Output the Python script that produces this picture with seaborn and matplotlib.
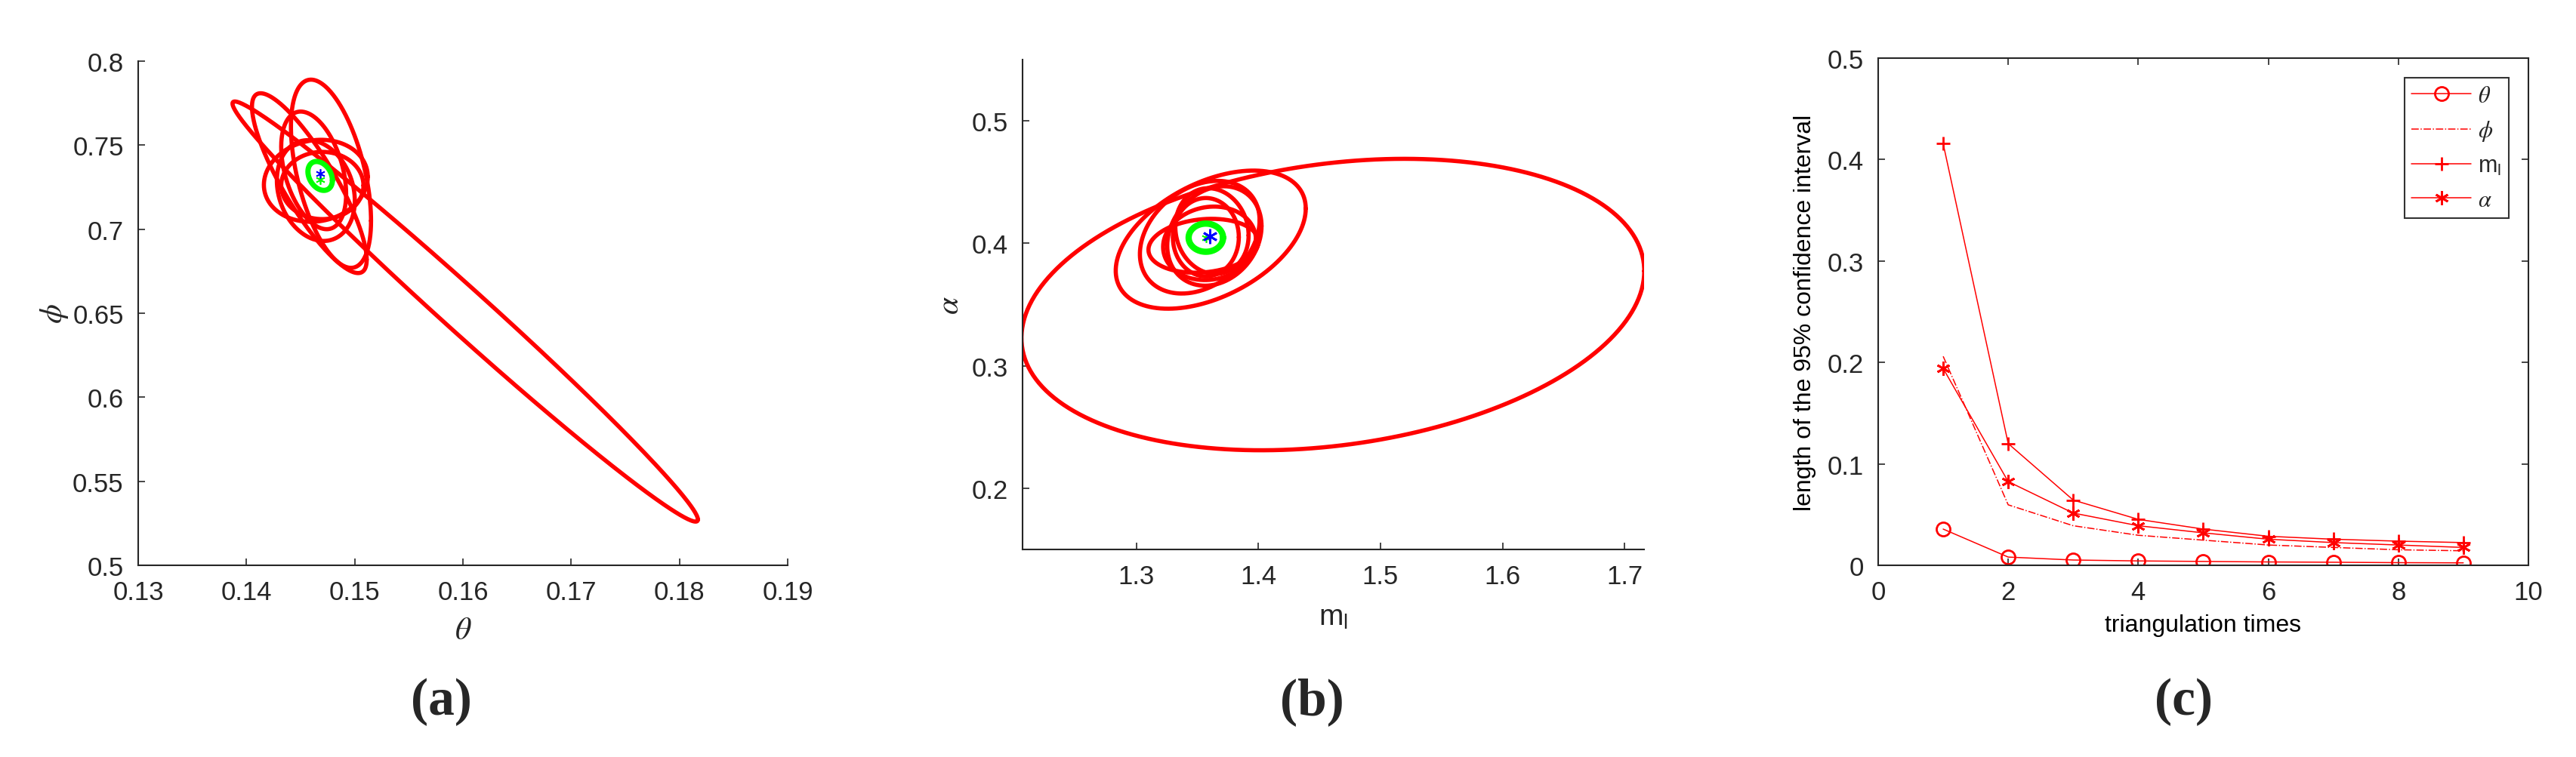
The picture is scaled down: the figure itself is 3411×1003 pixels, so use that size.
import numpy as np
import matplotlib
matplotlib.use("Agg")
import matplotlib.pyplot as plt
import pandas as pd
import seaborn as sns

# ---- panel (a): confidence ellipses (theta, phi) ----
# centre x/y, half extents dx/dy (bounding box), correlation rho
a_cx = [0.1602, 0.1478, 0.1458, 0.1462, 0.1464, 0.1464, 0.1470, 0.1468]
a_cy = [0.6510, 0.7330, 0.7274, 0.7350, 0.7288, 0.7230, 0.7260, 0.7317]
a_dx = [0.0215, 0.0037, 0.0053, 0.0030, 0.0048, 0.0036, 0.0038, 0.00113]
a_dy = [0.1250, 0.0560, 0.0535, 0.0350, 0.0244, 0.0300, 0.0200, 0.0086]
a_rho = [-0.99, -0.50, -0.85, -0.40, 0.10, -0.20, 0.00, -0.30]
a_col = ["red"] * 7 + ["lime"]
a_blue = (0.1468, 0.7331)
a_green = (0.1468, 0.7297)

# ---- panel (b): confidence ellipses (m_l, alpha) ----
b_cx = [1.461, 1.361, 1.352, 1.364, 1.360, 1.357, 1.355, 1.362, 1.357]
b_cy = [0.350, 0.403, 0.405, 0.406, 0.400, 0.405, 0.398, 0.410, 0.4046]
b_dx = [0.255, 0.0778, 0.049, 0.0386, 0.038, 0.027, 0.045, 0.030, 0.0141]
b_dy = [0.119, 0.0564, 0.046, 0.0406, 0.030, 0.032, 0.022, 0.035, 0.0115]
b_rho = [0.23, 0.45, 0.30, 0.20, 0.10, 0.00, 0.15, -0.10, 0.0]
b_col = ["red"] * 8 + ["lime"]
b_blue = (1.3604, 0.4058)
b_green = (1.357, 0.4046)

# ---- panel (c): length of 95% confidence interval ----
times = [1, 2, 3, 4, 5, 6, 7, 8, 9]
len_theta = [0.0357, 0.0081, 0.0052, 0.0043, 0.0038, 0.0033, 0.0030, 0.0026, 0.0024]
len_phi = [0.206, 0.0596, 0.0390, 0.0296, 0.0248, 0.0200, 0.0176, 0.0153, 0.0143]
len_ml = [0.4156, 0.1200, 0.0643, 0.0453, 0.0357, 0.0286, 0.0257, 0.0238, 0.0224]
len_alpha = [0.194, 0.0825, 0.0515, 0.0390, 0.0320, 0.0257, 0.0224, 0.0200, 0.0176]


def ellipse_xy(cx, cy, dx, dy, rho, n=400):
    t = np.linspace(0, 2 * np.pi, n)
    return cx + dx * np.cos(t), cy + dy * np.cos(t + np.arccos(rho))


sns.set_theme(style="white")
plt.rcParams["font.family"] = ["Liberation Sans", "DejaVu Sans"]
plt.rcParams["mathtext.fontset"] = "stix"
dark = "#262626"
tick_fs = 25

fig = plt.figure(figsize=(34.11, 10.04), dpi=100)
ax_a = fig.add_axes([0.0537, 0.253, 0.2521, 0.6653])
ax_b = fig.add_axes([0.3970, 0.2739, 0.2413, 0.6464])
ax_c = fig.add_axes([0.7291, 0.253, 0.2524, 0.6693])


def style_axes(ax, box):
    for s in ["left", "bottom", "top", "right"]:
        ax.spines[s].set_visible(box or s in ("left", "bottom"))
        ax.spines[s].set_color(dark)
        ax.spines[s].set_linewidth(1.5)
    ax.tick_params(direction="in", length=6.5, width=1.2, color=dark,
                   labelsize=tick_fs, labelcolor=dark, pad=14,
                   top=box, right=box, bottom=True, left=True)


# panel (a)
for cx, cy, dx, dy, r, c in zip(a_cx, a_cy, a_dx, a_dy, a_rho, a_col):
    x, y = ellipse_xy(cx, cy, dx, dy, r)
    ax_a.plot(x, y, color=c, lw=5 if c == "lime" else 4)
ax_a.plot(*a_green, marker=(6, 2, 0), color="lime", ms=9, mew=1.2)
ax_a.plot(*a_blue, marker=(6, 2, 0), color="blue", ms=9, mew=1.2)
ax_a.set_xlim(0.13, 0.19)
ax_a.set_ylim(0.5, 0.8)
ax_a.set_xticks([0.13, 0.14, 0.15, 0.16, 0.17, 0.18, 0.19],
                ["0.13", "0.14", "0.15", "0.16", "0.17", "0.18", "0.19"])
ax_a.set_yticks([0.5, 0.55, 0.6, 0.65, 0.7, 0.75, 0.8],
                ["0.5", "0.55", "0.6", "0.65", "0.7", "0.75", "0.8"])
ax_a.set_xlabel(r"$\theta$", fontsize=30, labelpad=10)
ax_a.set_ylabel(r"$\phi$", fontsize=30, labelpad=2)
style_axes(ax_a, False)

# panel (b)
for cx, cy, dx, dy, r, c in zip(b_cx, b_cy, b_dx, b_dy, b_rho, b_col):
    x, y = ellipse_xy(cx, cy, dx, dy, r)
    ax_b.plot(x, y, color=c, lw=6 if c == "lime" else 4)
ax_b.plot(*b_green, marker=(6, 2, 0), color="lime", ms=9, mew=1.2)
ax_b.plot(*b_blue, marker=(6, 2, 0), color="blue", ms=14, mew=2)
ax_b.set_xlim(1.207, 1.716)
ax_b.set_ylim(0.15, 0.55)
ax_b.set_xticks([1.3, 1.4, 1.5, 1.6, 1.7], ["1.3", "1.4", "1.5", "1.6", "1.7"])
ax_b.set_yticks([0.2, 0.3, 0.4, 0.5], ["0.2", "0.3", "0.4", "0.5"])
ax_b.set_xlabel(r"m$_\mathregular{l}$", fontsize=28, labelpad=14)
ax_b.set_ylabel(r"$\alpha$", fontsize=30, labelpad=6)
style_axes(ax_b, False)

# panel (c)
df = pd.DataFrame({"times": times * 4,
                   "length": len_theta + len_phi + len_ml + len_alpha,
                   "param": ["theta"] * 9 + ["phi"] * 9 + ["ml"] * 9 + ["alpha"] * 9})
series = [("theta", "o", r"$\theta$"),
          ("phi", "", r"$\phi$"),
          ("ml", "+", r"m$_\mathregular{l}$"),
          ("alpha", (6, 2, 0), r"$\alpha$")]
for name, mk, lab in series:
    sub = df[df["param"] == name]
    sns.lineplot(data=sub, x="times", y="length", ax=ax_c, color="red",
                 lw=1.1, marker=mk if mk else None, ms=13, mew=2,
                 mfc="none" if mk == "o" else "red", mec="red",
                 linestyle="-." if name == "phi" else "-", label=lab)
ax_c.set_xlim(0, 10)
ax_c.set_ylim(0, 0.5)
ax_c.set_xticks([0, 2, 4, 6, 8, 10], ["0", "2", "4", "6", "8", "10"])
ax_c.set_yticks([0, 0.1, 0.2, 0.3, 0.4, 0.5], ["0", "0.1", "0.2", "0.3", "0.4", "0.5"])
ax_c.set_xlabel("triangulation times", fontsize=23, labelpad=8, color="black")
ax_c.set_ylabel("length of the 95% confidence interval", fontsize=23,
                labelpad=10, color="black")
style_axes(ax_c, True)
leg = ax_c.legend(loc="upper right", fontsize=22, frameon=True, fancybox=False,
                  edgecolor="black", handlelength=2.6, labelspacing=0.5,
                  borderaxespad=0.85, handletextpad=0.3, borderpad=0.3)
leg.get_frame().set_linewidth(1.5)

for xc, lab in zip([584, 1737, 2891], ["(a)", "(b)", "(c)"]):
    fig.text(xc / 3411, 0.074, lab, ha="center", va="center", fontsize=50,
             fontweight="bold", family="Liberation Serif")

fig.savefig("out.png", dpi=100)
